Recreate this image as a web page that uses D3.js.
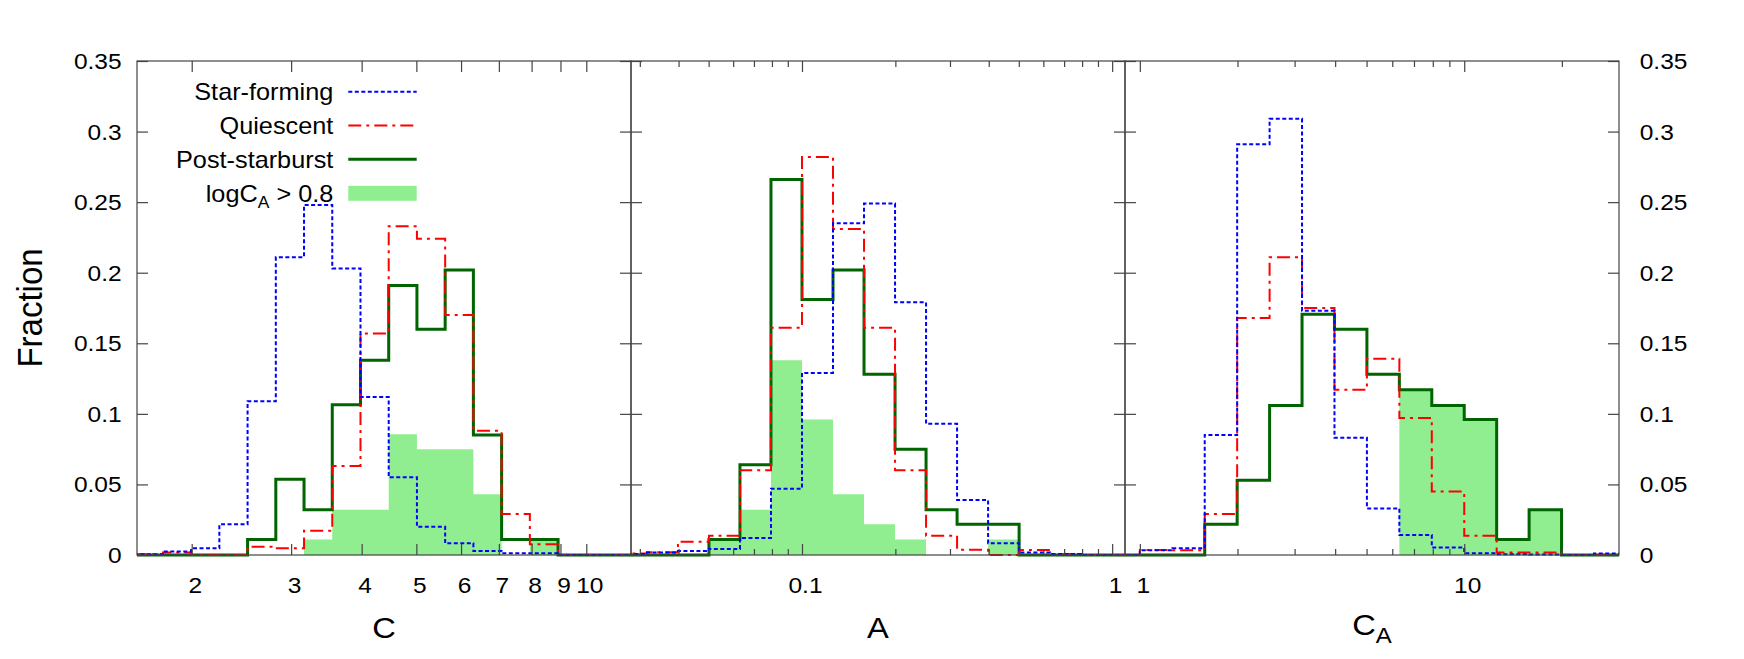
<!DOCTYPE html>
<html><head><meta charset="utf-8">
<script src="https://cdn.jsdelivr.net/npm/d3@7"></script>
<style>
body{margin:0;background:#fff}
svg{display:block}
text{font-family:"Liberation Sans",Arial,Helvetica,sans-serif;fill:#000}
</style>
</head><body>
<svg id="chart" width="1744" height="659"></svg>
<script>
// ---------------- DATA ----------------
// Panel 1: concentration C, bins given as log10(C) edges
const cEdgesLog = [0.20,0.25,0.30,0.35,0.40,0.45,0.50,0.55,0.60,0.65,0.70,0.75,0.80,0.85,0.90,0.95,1.00,1.05,1.10];
const cStarForming = [0.0005,0.0024,0.0047,0.0217,0.109,0.211,0.248,0.203,0.112,0.055,0.020,0.0083,0.0028,0.0012,0.0012,0,0,0];
const cQuiescent   = [0.0005,0.0017,0,0,0.0059,0.0047,0.0172,0.063,0.157,0.233,0.224,0.170,0.088,0.029,0.0076,0,0,0];
const cPostSB      = [0,0,0,0,0.011,0.0536,0.032,0.1065,0.138,0.191,0.160,0.202,0.085,0.011,0.011,0,0,0];
const cHighCA      = [0,0,0,0,0,0,0.011,0.032,0.032,0.0855,0.075,0.075,0.043,0,0.011,0,0,0];
const cTicks = [2,3,4,5,6,7,8,9,10];
const cTickLabels = ["2","3","4","5","6","7","8","9","10"];
const cMinor = [];

// Panel 2: asymmetry A, bins given as log10(A) edges
const aEdgesLog = [-1.6,-1.5,-1.4,-1.3,-1.2,-1.1,-1.0,-0.9,-0.8,-0.7,-0.6,-0.5,-0.4,-0.3,-0.2,-0.1,0.0,0.1];
const aStarForming = [0.0007,0.0017,0.0028,0.0043,0.012,0.047,0.129,0.235,0.249,0.179,0.093,0.039,0.0083,0.0017,0.0007,0,0];
const aQuiescent   = [0.001,0.0019,0.0094,0.0137,0.060,0.161,0.282,0.231,0.161,0.060,0.0137,0.0037,0,0.0035,0.0007,0,0];
const aPostSB      = [0,0,0,0.011,0.064,0.266,0.181,0.202,0.128,0.075,0.032,0.0217,0.0217,0,0,0,0];
const aHighCA      = [0,0,0,0.011,0.032,0.138,0.096,0.043,0.0217,0.011,0,0,0.011,0,0,0,0];
const aTicks = [0.1,1];
const aTickLabels = ["0.1","1"];
const aMinor = [0.03,0.04,0.05,0.06,0.07,0.08,0.09,0.2,0.3,0.4,0.5,0.6,0.7,0.8,0.9];

// Panel 3: C_A, bins given as log10(C_A) edges
const caEdgesLog = [-0.1,0.0,0.1,0.2,0.3,0.4,0.5,0.6,0.7,0.8,0.9,1.0,1.1,1.2,1.3,1.4,1.5];
const caStarForming = [0,0.0033,0.0047,0.085,0.291,0.309,0.173,0.083,0.033,0.0142,0.0054,0.0012,0.0005,0.0003,0,0.001];
const caQuiescent   = [0,0.0035,0.0033,0.029,0.168,0.211,0.175,0.117,0.139,0.097,0.045,0.0137,0.0017,0.0017,0,0];
const caPostSB      = [0,0,0,0.0217,0.053,0.106,0.1705,0.160,0.128,0.117,0.106,0.096,0.011,0.032,0,0];
const caHighCA      = [0,0,0,0,0,0,0,0,0,0.117,0.106,0.096,0.011,0.032,0,0];
const caTicks = [1,10];
const caTickLabels = ["1","10"];
const caMinor = [2,3,4,5,6,7,8,9,20];

// Y axis
const yTicks = [0,0.05,0.1,0.15,0.2,0.25,0.3,0.35];
const yTickLabels = ["0","0.05","0.1","0.15","0.2","0.25","0.3","0.35"];

const seriesNames = ["Star-forming","Quiescent","Post-starburst"];

// ---------------- LAYOUT ----------------
const svg = d3.select("#chart");
const TOP = 61, BOTTOM = 555;
const SX = 1.09; // horizontal text stretch of the original
const AXIS_COL = "#444";
const COL_SF = "#0000ff", COL_Q = "#ff0000", COL_PSB = "#006400", COL_FILL = "#90ee90";

const y = d3.scaleLinear().domain([0,0.35]).range([BOTTOM,TOP]);

const panels = [
  {x0:137, x1:631, domain:[1.6,12], edges:cEdgesLog, sf:cStarForming, q:cQuiescent, psb:cPostSB, fill:cHighCA,
   ticks:cTicks, labels:cTickLabels, minor:cMinor, title:"C"},
  {x0:631, x1:1125, domain:[0.0281,1.1], edges:aEdgesLog, sf:aStarForming, q:aQuiescent, psb:aPostSB, fill:aHighCA,
   ticks:aTicks, labels:aTickLabels, minor:aMinor, title:"A"},
  {x0:1125, x1:1619, domain:[0.9,30], edges:caEdgesLog, sf:caStarForming, q:caQuiescent, psb:caPostSB, fill:caHighCA,
   ticks:caTicks, labels:caTickLabels, minor:caMinor, title:"CA"}
];

function stext(parent, x, yy, str, fs, anchor, extra){
  const g = parent.append("g").attr("transform", `translate(${x},${yy}) scale(${SX},1)` + (extra||""));
  return g.append("text").attr("x",0).attr("y",0).attr("font-size",fs)
          .attr("text-anchor",anchor||"start").text(str);
}

function stepPoints(edgesLog, vals){
  const pts = [[Math.pow(10,edgesLog[0]),0]];
  vals.forEach((v,i)=>{
    pts.push([Math.pow(10,edgesLog[i]),v]);
    pts.push([Math.pow(10,edgesLog[i+1]),v]);
  });
  pts.push([Math.pow(10,edgesLog[vals.length]),0]);
  return pts;
}

const defs = svg.append("defs");

panels.forEach((p,pi)=>{
  const x = d3.scaleLog().domain(p.domain).range([p.x0,p.x1]);
  const clipId = "clip"+pi;
  defs.append("clipPath").attr("id",clipId).append("rect")
     .attr("x",p.x0).attr("y",TOP-4).attr("width",p.x1-p.x0).attr("height",BOTTOM-TOP+6);

  const g = svg.append("g");
  const plot = g.append("g").attr("clip-path",`url(#${clipId})`);

  const line = d3.line().x(d=>x(d[0])).y(d=>y(d[1]));
  const area = d3.area().x(d=>x(d[0])).y0(y(0)).y1(d=>y(d[1]));

  plot.append("path").attr("d",area(stepPoints(p.edges,p.fill))).attr("fill",COL_FILL).attr("stroke","none");

  // axes (ticks only), drawn beneath the curves
  const ax = g.append("g");
  const styleAxis = sel => { sel.select(".domain").remove(); sel.selectAll("line").attr("stroke",AXIS_COL).attr("stroke-width",1.2); sel.selectAll("text").remove(); };
  ax.append("g").attr("transform",`translate(0,${BOTTOM})`).call(d3.axisBottom(x).tickValues(p.ticks).tickSize(-11).tickFormat("")).call(styleAxis);
  ax.append("g").attr("transform",`translate(0,${TOP})`).call(d3.axisTop(x).tickValues(p.ticks).tickSize(-11).tickFormat("")).call(styleAxis);
  if (p.minor.length){
    ax.append("g").attr("transform",`translate(0,${BOTTOM})`).call(d3.axisBottom(x).tickValues(p.minor).tickSize(-6).tickFormat("")).call(styleAxis);
    ax.append("g").attr("transform",`translate(0,${TOP})`).call(d3.axisTop(x).tickValues(p.minor).tickSize(-6).tickFormat("")).call(styleAxis);
  }
  ax.append("g").attr("transform",`translate(${p.x0},0)`).call(d3.axisLeft(y).tickValues(yTicks).tickSize(-11).tickFormat("")).call(styleAxis);
  ax.append("g").attr("transform",`translate(${p.x1},0)`).call(d3.axisRight(y).tickValues(yTicks).tickSize(-11).tickFormat("")).call(styleAxis);

  plot.append("path").attr("d",line(stepPoints(p.edges,p.psb))).attr("fill","none")
      .attr("stroke",COL_PSB).attr("stroke-width",3);
  plot.append("path").attr("d",line(stepPoints(p.edges,p.q))).attr("fill","none")
      .attr("stroke",COL_Q).attr("stroke-width",2).attr("stroke-dasharray","13,5,3,5");
  plot.append("path").attr("d",line(stepPoints(p.edges,p.sf))).attr("fill","none")
      .attr("stroke",COL_SF).attr("stroke-width",2).attr("stroke-dasharray","4,2.5");

  // border
  g.append("rect").attr("x",p.x0).attr("y",TOP).attr("width",p.x1-p.x0).attr("height",BOTTOM-TOP)
   .attr("fill","none").attr("stroke",AXIS_COL).attr("stroke-width",1.2);

  // x tick labels
  p.ticks.forEach((t,i)=>{ stext(g, x(t)+3.5, 593, p.labels[i], 22.5, "middle"); });

  // x axis title
  const cx = (p.x0+p.x1)/2;
  if (p.title === "CA"){
    const t = stext(g, cx, 635, "", 30, "middle");
    t.append("tspan").text("C");
    t.append("tspan").attr("font-size",22).attr("dy",7.7).text("A");
  } else {
    stext(g, cx, 638, p.title, 30, "middle");
  }
});

// y tick labels
yTicks.forEach((v,i)=>{
  stext(svg, 121.6, y(v)+8, yTickLabels[i], 22.5, "end");
  stext(svg, 1639.7, y(v)+8, yTickLabels[i], 22.5, "start");
});

// y title
stext(svg, 41.7, 308, "Fraction", 33, "middle", " rotate(-90)");

// legend
const legY = [91.7, 125.5, 159.3, 193.3];
const leg = svg.append("g");
const lx0 = 348.3, lx1 = 416.7, ltx = 333.3, lfs = 23.2;
stext(leg, ltx, legY[0]+8.3, seriesNames[0], lfs, "end");
leg.append("line").attr("x1",lx0).attr("x2",lx1).attr("y1",legY[0]).attr("y2",legY[0])
   .attr("stroke",COL_SF).attr("stroke-width",2).attr("stroke-dasharray","4,2.5");
stext(leg, ltx, legY[1]+8.3, seriesNames[1], lfs, "end");
leg.append("line").attr("x1",lx0).attr("x2",lx1).attr("y1",legY[1]).attr("y2",legY[1])
   .attr("stroke",COL_Q).attr("stroke-width",2).attr("stroke-dasharray","13,5,3,5");
stext(leg, ltx, legY[2]+8.3, seriesNames[2], lfs, "end");
leg.append("line").attr("x1",lx0).attr("x2",lx1).attr("y1",legY[2]).attr("y2",legY[2])
   .attr("stroke",COL_PSB).attr("stroke-width",3);
const t4 = stext(leg, ltx, legY[3]+8.3, "", lfs, "end");
t4.append("tspan").text("logC");
t4.append("tspan").attr("font-size",16).attr("dy",6).text("A");
t4.append("tspan").attr("dy",-6).text(" > 0.8");
leg.append("rect").attr("x",lx0).attr("y",legY[3]-7.5).attr("width",lx1-lx0).attr("height",15).attr("fill",COL_FILL);
</script>
</body></html>
